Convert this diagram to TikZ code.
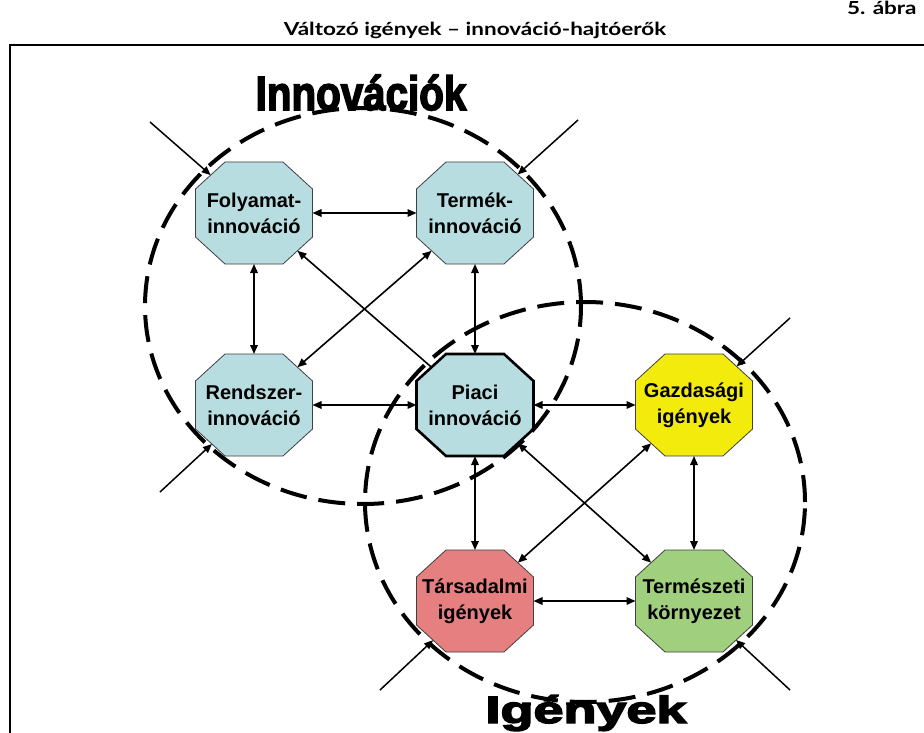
\documentclass[tikz,border=0pt]{standalone}
\usepackage{fontspec}
\setmainfont{Liberation Sans}
\newfontfamily\titlefont{Lato}
\newfontfamily\heavyfont{Liberation Sans}[BoldFeatures={FakeBold=3.5}]
\usetikzlibrary{arrows.meta}
\makeatletter
\newdimen\oct@l \newdimen\oct@r \newdimen\oct@b \newdimen\oct@t
\newdimen\oct@li \newdimen\oct@ri \newdimen\oct@bi \newdimen\oct@ti
\def\octcxn{29.5}\def\octcyn{27}
\pgfdeclareshape{octbox}{%
  \inheritsavedanchors[from=rectangle]%
  \inheritanchor[from=rectangle]{center}%
  \inheritanchor[from=rectangle]{north}%
  \inheritanchor[from=rectangle]{south}%
  \inheritanchor[from=rectangle]{east}%
  \inheritanchor[from=rectangle]{west}%
  \inheritanchor[from=rectangle]{base}%
  \inheritanchor[from=rectangle]{mid}%
  \backgroundpath{%
    \pgf@process{\southwest}\oct@l=\pgf@x \oct@b=\pgf@y
    \pgf@process{\northeast}\oct@r=\pgf@x \oct@t=\pgf@y
    \oct@li=\oct@l \advance\oct@li by \octcxn pt\relax
    \oct@ri=\oct@r \advance\oct@ri by -\octcxn pt\relax
    \oct@bi=\oct@b \advance\oct@bi by \octcyn pt\relax
    \oct@ti=\oct@t \advance\oct@ti by -\octcyn pt\relax
    \pgfpathmoveto{\pgfqpoint{\oct@li}{\oct@b}}%
    \pgfpathlineto{\pgfqpoint{\oct@ri}{\oct@b}}%
    \pgfpathlineto{\pgfqpoint{\oct@r}{\oct@bi}}%
    \pgfpathlineto{\pgfqpoint{\oct@r}{\oct@ti}}%
    \pgfpathlineto{\pgfqpoint{\oct@ri}{\oct@t}}%
    \pgfpathlineto{\pgfqpoint{\oct@li}{\oct@t}}%
    \pgfpathlineto{\pgfqpoint{\oct@l}{\oct@ti}}%
    \pgfpathlineto{\pgfqpoint{\oct@l}{\oct@bi}}%
    \pgfpathclose
  }%
  \anchorborder{%
    \edef\oct@dx{\pgf@sys@tonumber\pgf@x}%
    \edef\oct@dy{\pgf@sys@tonumber\pgf@y}%
    \pgf@process{\southwest}\oct@l=\pgf@x \oct@b=\pgf@y
    \pgf@process{\northeast}\oct@r=\pgf@x \oct@t=\pgf@y
    \edef\oct@L{\pgf@sys@tonumber\oct@l}%
    \edef\oct@R{\pgf@sys@tonumber\oct@r}%
    \edef\oct@B{\pgf@sys@tonumber\oct@b}%
    \edef\oct@T{\pgf@sys@tonumber\oct@t}%
    \pgfmathsetmacro\oct@s{max(abs(\oct@dx),abs(\oct@dy),0.001)}%
    \pgfmathsetmacro\oct@vx{(\oct@dx)/\oct@s}%
    \pgfmathsetmacro\oct@vy{(\oct@dy)/\oct@s}%
    \pgfmathsetmacro\oct@len{veclen(\oct@vx,\oct@vy)}%
    \pgfmathsetmacro\oct@ux{(\oct@vx)/\oct@len}%
    \pgfmathsetmacro\oct@uy{(\oct@vy)/\oct@len}%
    \pgfmathsetmacro\oct@ha{((\oct@R)-(\oct@L))/2}%
    \pgfmathsetmacro\oct@hb{((\oct@T)-(\oct@B))/2}%
    \pgfmathsetmacro\oct@mx{((\oct@R)+(\oct@L))/2}%
    \pgfmathsetmacro\oct@my{((\oct@T)+(\oct@B))/2}%
    \pgfmathsetmacro\oct@ax{max(abs(\oct@ux),0.01)}%
    \pgfmathsetmacro\oct@ay{max(abs(\oct@uy),0.01)}%
    \pgfmathsetmacro\oct@K{\oct@ha/\octcxn+\oct@hb/\octcyn-1}%
    \pgfmathsetmacro\oct@tt{min(\oct@ha/\oct@ax,\oct@hb/\oct@ay,\oct@K/(\oct@ax/\octcxn+\oct@ay/\octcyn))}%
    \pgfmathsetmacro\oct@X{(\oct@mx)+(\oct@tt)*(\oct@ux)}%
    \pgfmathsetmacro\oct@Y{(\oct@my)+(\oct@tt)*(\oct@uy)}%
    \pgf@x=\oct@X pt\relax
    \pgf@y=\oct@Y pt\relax
  }%
}
\makeatother
\definecolor{octblue}{RGB}{183,221,225}
\definecolor{octyellow}{RGB}{242,235,12}
\definecolor{octred}{RGB}{230,128,128}
\definecolor{octgreen}{RGB}{160,208,126}
\begin{document}
\begin{tikzpicture}[x=1pt,y=-1pt,
  oct/.style={octbox, draw=black!75, line width=0.8pt, minimum width=117pt, minimum height=102pt,
    inner sep=0pt, outer sep=0pt, align=center, font=\bfseries\fontsize{20}{26}\selectfont},
  tipA/.tip={Triangle[length=9pt,width=7.5pt]},
  both/.style={tipA-tipA, line width=1.6pt},
  one/.style={-tipA, line width=1.6pt},
  inarrow/.style={-tipA, line width=1.5pt},
  ring/.style={line width=4pt, dash pattern=on 27pt off 12pt},
  frame/.style={line width=2.6pt},
  headfont/.style={font=\titlefont\bfseries\fontsize{18}{20}\selectfont, xscale=1.25}
]
\useasboundingbox (0,0) rectangle (924,733);
% frame and titles
\draw[frame] (10,745) -- (10,45) -- (935,45);
\node[headfont] (title) at (475,30) {Változó igények – innováció-hajtóerők};
\node[headfont, anchor=base east] (abra) at (921,15) {5. ábra};
% octagons
\node[oct, fill=octblue] (fol) at (254,213) {Folyamat-\\innováció};
\node[oct, fill=octblue] (ter) at (475,213) {Termék-\\innováció};
\node[oct, fill=octblue] (ren) at (254,405) {Rendszer-\\innováció};
\node[oct, fill=octblue, line width=2.6pt, draw=black] (pia) at (475,405) {Piaci\\innováció};
\node[oct, fill=octyellow] (gaz) at (694,405) {Gazdasági\\igények};
\node[oct, fill=octred] (tar) at (475,601) {Társadalmi\\igények};
\node[oct, fill=octgreen] (tke) at (694,601) {Természeti\\környezet};
% connectors
\draw[both] (fol) -- (ter);
\draw[both] (fol) -- (ren);
\draw[both] (ter) -- (pia);
\draw[both] (ren) -- (pia);
\draw[both] (pia) -- (gaz);
\draw[both] (pia) -- (tar);
\draw[both] (gaz) -- (tke);
\draw[both] (tar) -- (tke);
\draw[one] (pia) -- (fol);
\draw[both] (ren) -- (ter);
\draw[both] (pia) -- (tke);
\draw[both] (gaz) -- (tar);
% incoming drivers
\coordinate (folin) at (150,122);
\coordinate (terin) at (578,120);
\coordinate (renin) at (160,492);
\coordinate (gazin) at (790,318);
\coordinate (tarin) at (380,690);
\coordinate (tkein) at (790,690);
\draw[inarrow] (folin) -- (fol);
\draw[inarrow] (terin) -- (ter);
\draw[inarrow] (renin) -- (ren);
\draw[inarrow] (gazin) -- (gaz);
\draw[inarrow] (tarin) -- (tar);
\draw[inarrow] (tkein) -- (tke);
% dashed rings
\draw[ring] (363,306) ellipse [x radius=218pt, y radius=198pt];
\draw[ring] (585,502) ellipse [x radius=220pt, y radius=200pt];
% ring labels
\node[anchor=base, font=\heavyfont\bfseries\fontsize{48}{50}\selectfont, xscale=0.84] (innov) at (361,110) {Innovációk};
\node[anchor=base, font=\heavyfont\bfseries\fontsize{38}{40}\selectfont, xscale=1.42] (igeny) at (586,723) {Igények};
\end{tikzpicture}
\end{document}
